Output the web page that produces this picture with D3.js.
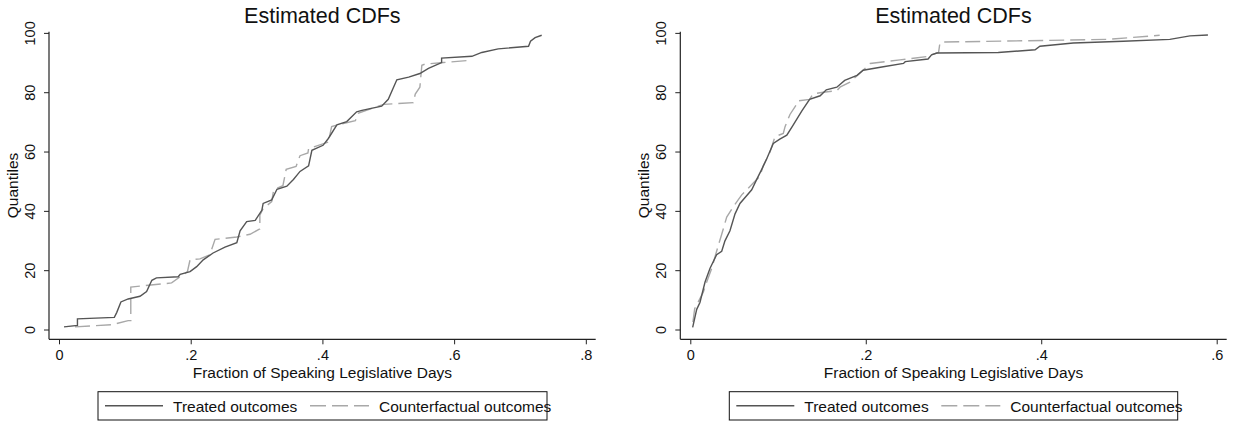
<!DOCTYPE html>
<html>
<head>
<meta charset="utf-8">
<script src="https://cdn.jsdelivr.net/npm/d3@7"></script>
<style>
  html, body { margin: 0; padding: 0; background: #fff; }
  svg { display: block; font-family: "Liberation Sans", Arial, Helvetica, sans-serif; }
</style>
</head>
<body>
<svg id="chart" width="1233" height="421"></svg>
<script>
// ---------- Data ----------
const chartTitle = "Estimated CDFs";
const xAxisTitle = "Fraction of Speaking Legislative Days";
const yAxisTitle = "Quantiles";
const seriesNames = ["Treated outcomes", "Counterfactual outcomes"];
const yTicks = [0, 20, 40, 60, 80, 100];
const leftXTicks = [0, 0.2, 0.4, 0.6, 0.8];
const rightXTicks = [0, 0.2, 0.4, 0.6];

// Left panel: treated outcomes (fraction, quantile)
const leftTreatedX = [0.0076,0.028,0.028,0.084,0.0876,0.094,0.105,0.123,0.133,0.141,0.148,0.181,0.184,0.199,0.209,0.219,0.234,0.252,0.270,0.275,0.285,0.298,0.308,0.310,0.323,0.331,0.346,0.356,0.366,0.379,0.384,0.401,0.409,0.422,0.437,0.452,0.460,0.490,0.500,0.513,0.531,0.548,0.561,0.581,0.581,0.627,0.642,0.667,0.713,0.716,0.723,0.733];
const leftTreatedQ = [0.9,1.4,3.6,4.1,5.7,9.3,10.3,11.2,12.8,16.6,17.4,17.8,18.6,19.5,21.2,23.5,25.8,27.8,29.3,33.3,36.4,36.8,40.2,42.5,43.7,47.3,48.3,50.6,53.3,55.2,60.4,62.1,64.4,69.0,70.1,73.4,73.9,75.3,77.6,84.2,85.1,86.3,88.0,90.0,91.5,92.1,93.4,94.6,95.5,97.2,98.4,99.2];
// Left panel: counterfactual outcomes
const leftCounterX = [0.0243,0.080,0.105,0.109,0.109,0.171,0.186,0.195,0.199,0.214,0.229,0.237,0.270,0.290,0.305,0.305,0.310,0.323,0.326,0.340,0.345,0.360,0.366,0.378,0.379,0.409,0.414,0.427,0.450,0.455,0.493,0.538,0.541,0.548,0.551,0.556,0.584,0.622];
const leftCounterQ = [0.9,1.6,3.0,3.0,14.3,15.7,18.1,19.5,23.5,23.8,25.2,30.4,31.2,32.1,33.9,38.5,40.8,43.1,47.1,48.5,54.0,55.0,58.6,59.5,61.0,63.2,68.4,69.2,70.4,73.0,75.9,76.5,79.4,81.7,89.1,89.5,90.0,90.7];

// Right panel: treated outcomes
const rightTreatedX = [0.0027,0.0073,0.011,0.0168,0.0224,0.030,0.0358,0.0395,0.0452,0.051,0.0566,0.070,0.0757,0.0814,0.087,0.0946,0.102,0.110,0.1174,0.127,0.136,0.148,0.155,0.167,0.176,0.190,0.197,0.220,0.243,0.245,0.271,0.275,0.281,0.351,0.393,0.3985,0.4365,0.4935,0.5466,0.5695,0.590];
const rightTreatedQ = [0.7,6.8,9.1,16.0,20.6,25.2,26.4,29.9,33.3,39.0,42.5,47.1,50.6,54.0,57.5,62.7,64.2,65.5,69.0,73.6,77.6,78.8,80.8,81.7,84.0,85.7,87.4,88.6,89.7,90.3,91.2,92.6,93.2,93.4,94.3,95.5,96.6,97.2,97.8,99.0,99.3];
// Right panel: counterfactual outcomes
const rightCounterX = [0.003,0.005,0.0148,0.0187,0.0244,0.030,0.0358,0.0415,0.049,0.0586,0.0718,0.0794,0.0832,0.0908,0.0965,0.106,0.108,0.1136,0.1212,0.123,0.136,0.140,0.1516,0.167,0.1706,0.182,0.193,0.205,0.239,0.269,0.283,0.2845,0.2883,0.4745,0.5011,0.535];
const rightCounterQ = [2.5,7.0,12.6,16.0,20.6,26.4,32.1,37.9,41.4,45.4,49.4,51.7,55.2,59.8,65.0,66.1,68.4,72.5,75.9,77.1,77.6,79.4,80.0,80.5,81.7,83.4,86.3,89.7,90.9,92.0,93.4,96.6,96.9,97.8,98.4,99.2];

// ---------- Layout ----------
const svg = d3.select("#chart");
const font = '"Liberation Sans", Arial, Helvetica, sans-serif';
const colTreated = "#555555";
const colCounter = "#a8a8a8";

const panels = [
  { left: 49, right: 595.7, xDomain: [-0.0152, 0.8150], xTicks: leftXTicks,
    legend: [98, 547],
    treated: leftTreatedX.map((x, i) => [x, leftTreatedQ[i]]),
    counter: leftCounterX.map((x, i) => [x, leftCounterQ[i]]) },
  { left: 680.3, right: 1226.7, xDomain: [-0.0114, 0.6114], xTicks: rightXTicks,
    legend: [729.3, 1177.7],
    treated: rightTreatedX.map((x, i) => [x, rightTreatedQ[i]]),
    counter: rightCounterX.map((x, i) => [x, rightCounterQ[i]]) }
];
const plotTop = 31.7, plotBottom = 339.3;
const fmt = d => d === 0 ? "0" : d3.format(".1f")(d).replace(/^0/, "");

panels.forEach(p => {
  const x = d3.scaleLinear().domain(p.xDomain).range([p.left, p.right]);
  const y = d3.scaleLinear().domain([-3.3, 100.4]).range([plotBottom, plotTop]);
  const g = svg.append("g");

  // Title
  const cx = (p.left + p.right) / 2;
  g.append("text").attr("x", cx).attr("y", 22.5).attr("text-anchor", "middle")
    .attr("font-size", 21.5).attr("fill", "#111").text(chartTitle);

  // X axis
  const xAxis = d3.axisBottom(x).tickValues(p.xTicks).tickFormat(fmt).tickSize(5).tickSizeOuter(0);
  const gx = g.append("g").attr("transform", `translate(0,${plotBottom})`).call(xAxis);
  gx.select(".domain").attr("stroke", "#222").attr("stroke-width", 1.2).attr("d", `M${p.left},0H${p.right}`);
  gx.selectAll(".tick line").attr("stroke", "#222");
  gx.selectAll(".tick text").attr("font-size", 14.5).attr("font-family", font).attr("fill", "#111")
    .attr("dy", null).attr("y", 20.5);

  // Y axis
  const yAxis = d3.axisLeft(y).tickValues(yTicks).tickSize(5).tickSizeOuter(0);
  const gy = g.append("g").attr("transform", `translate(${p.left},0)`).call(yAxis);
  gy.select(".domain").attr("stroke", "#222").attr("stroke-width", 1.2).attr("d", `M0,${plotTop}V${plotBottom}`);
  gy.selectAll(".tick line").attr("stroke", "#222");
  gy.selectAll(".tick text").attr("font-size", 14.5).attr("font-family", font).attr("fill", "#111")
    .attr("x", null).attr("dy", null).attr("text-anchor", "middle")
    .attr("transform", "translate(-14,0) rotate(-90)");

  // Axis titles
  g.append("text").attr("x", cx).attr("y", 377.5).attr("text-anchor", "middle")
    .attr("font-size", 15.5).attr("fill", "#111").text(xAxisTitle);
  g.append("text").attr("text-anchor", "middle").attr("font-size", 15.5).attr("fill", "#111")
    .attr("transform", `translate(${p.left - 31.5},${(plotTop + plotBottom) / 2}) rotate(-90)`).text(yAxisTitle);

  // Lines
  const line = d3.line().x(d => x(d[0])).y(d => y(d[1]));
  g.append("path").datum(p.counter).attr("d", line).attr("fill", "none")
    .attr("stroke", colCounter).attr("stroke-width", 1.4).attr("stroke-dasharray", "15,6");
  g.append("path").datum(p.treated).attr("d", line).attr("fill", "none")
    .attr("stroke", colTreated).attr("stroke-width", 1.4);

  // Legend
  const [lx0, lx1] = p.legend;
  const lg = g.append("g");
  lg.append("rect").attr("x", lx0).attr("y", 391.7).attr("width", lx1 - lx0).attr("height", 28.3)
    .attr("fill", "#fff").attr("stroke", "#111").attr("stroke-width", 1);
  const ly = 405.7;
  lg.append("line").attr("x1", lx0 + 7).attr("x2", lx0 + 65).attr("y1", ly).attr("y2", ly)
    .attr("stroke", colTreated).attr("stroke-width", 1.4);
  lg.append("text").attr("x", lx0 + 75).attr("y", 411.5).attr("font-size", 15.5).attr("fill", "#111").text(seriesNames[0]);
  lg.append("line").attr("x1", lx0 + 212).attr("x2", lx0 + 271).attr("y1", ly).attr("y2", ly)
    .attr("stroke", colCounter).attr("stroke-width", 1.4).attr("stroke-dasharray", "16,6");
  lg.append("text").attr("x", lx0 + 281).attr("y", 411.5).attr("font-size", 15.5).attr("fill", "#111").text(seriesNames[1]);
});
</script>
</body>
</html>
